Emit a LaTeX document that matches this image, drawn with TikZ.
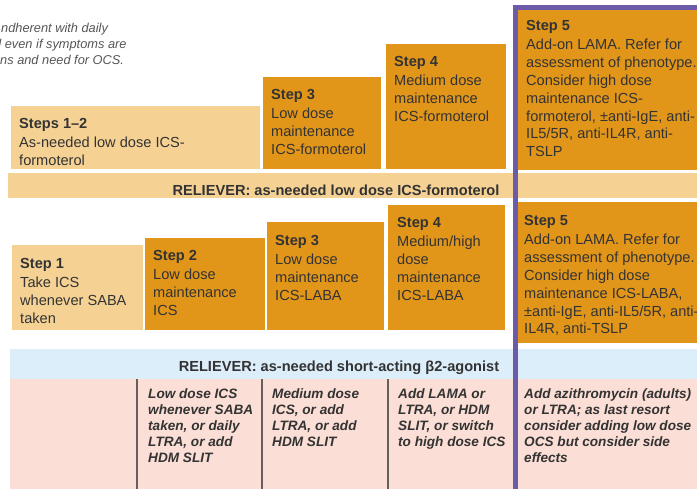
\documentclass[tikz,border=0pt]{standalone}
\usepackage{fontspec}
\setmainfont{Liberation Sans}
\usepackage{tikz}
\usetikzlibrary{positioning}
\definecolor{lightorange}{HTML}{F5D294}
\definecolor{darkorange}{HTML}{E1961A}
\definecolor{framepurple}{HTML}{6C5BA8}
\definecolor{relblue}{HTML}{DDEEFB}
\definecolor{ctrlpink}{HTML}{FBDED5}
\definecolor{darktext}{HTML}{333333}
\definecolor{notegray}{HTML}{555555}
\definecolor{sepgray}{HTML}{66605A}
\newcommand{\boxfont}{\fontsize{14.6}{17.8}\selectfont}
\newcommand{\ctrlfont}{\fontsize{13.6}{16.2}\selectfont\bfseries\itshape}
\newcommand{\notefont}{\fontsize{12.8}{16}\selectfont\itshape}

\begin{document}
\begin{tikzpicture}[x=1pt, y=-1pt]
	\useasboundingbox (0,0) rectangle (697,488);

	\begin{scope}[every node/.style={rectangle, anchor=north west, inner sep=0pt, outer sep=0pt}]
		\node[fill=lightorange, minimum width=249pt, minimum height=63pt] (s12) at (11,106) {};
		\node[fill=darkorange, minimum width=118pt, minimum height=92pt] (s3t) at (263,77) {};
		\node[fill=darkorange, minimum width=120pt, minimum height=125pt] (s4t) at (386,44) {};
		\node[fill=darkorange, minimum width=182pt, minimum height=160pt] (s5t) at (518,10) {};
		\node[fill=lightorange, minimum width=692pt, minimum height=25pt] (rel1) at (8,173) {};
		\node[fill=lightorange, minimum width=131pt, minimum height=85pt] (s1) at (12,245) {};
		\node[fill=darkorange, minimum width=120pt, minimum height=92pt] (s2) at (145,238) {};
		\node[fill=darkorange, minimum width=117pt, minimum height=108pt] (s3b) at (267,222) {};
		\node[fill=darkorange, minimum width=117pt, minimum height=125pt] (s4b) at (388,205) {};
		\node[fill=darkorange, minimum width=182pt, minimum height=141pt] (s5b) at (518,202) {};
		\node[fill=relblue, minimum width=690pt, minimum height=30pt] (rel2) at (10,349) {};
		\node[fill=ctrlpink, minimum width=690pt, minimum height=110pt] (ctrl) at (10,379) {};
	\end{scope}

	\begin{scope}[every path/.style={draw=sepgray, line width=1.4pt}]
		\path (137,379) -- (137,489);
		\path (262,379) -- (262,489);
		\path (388,379) -- (388,489);
	\end{scope}

	\draw[framepurple, line width=5pt] (515.5,490) -- (515.5,7.5) -- (700,7.5);

	\begin{scope}[every node/.style={anchor=north west, inner sep=0pt, align=left, text=notegray, font=\notefont}]
		\node (n1) at (1,23.5) {ndherent with daily};
		\node (n2) at (-6,39.5) {d even if symptoms are};
		\node (n3) at (0,55.5) {ns and need for OCS.};
	\end{scope}

	\begin{scope}[every node/.style={anchor=north west, inner sep=0pt, align=left, text=darktext, font=\boxfont}]
		\node (t12) at (19,117.7) {\textbf{Steps 1--2}\\[2pt]As-needed low dose ICS-\\formoterol};
		\node (t3t) at (271,88.7) {\textbf{Step 3}\\[2pt]Low dose\\maintenance\\ICS-formoterol};
		\node (t4t) at (394,55.7) {\textbf{Step 4}\\[2pt]Medium dose\\maintenance\\ICS-formoterol};
		\node (t5t) at (526,19.7) {\textbf{Step 5}\\[2pt]Add-on LAMA. Refer for\\assessment of phenotype.\\Consider high dose\\maintenance ICS-\\formoterol, ±anti-IgE, anti-\\IL5/5R, anti-IL4R, anti-\\TSLP};
		\node[anchor=base, font=\boxfont\bfseries] (r1) at (336,195) {RELIEVER: as-needed low dose ICS-formoterol};
		\node (t1) at (20,257.7) {\textbf{Step 1}\\[2pt]Take ICS\\whenever SABA\\taken};
		\node (t2) at (153,249.7) {\textbf{Step 2}\\[2pt]Low dose\\maintenance\\ICS};
		\node (t3b) at (275,234.7) {\textbf{Step 3}\\[2pt]Low dose\\maintenance\\ICS-LABA};
		\node (t4b) at (397,216.7) {\textbf{Step 4}\\[2pt]Medium/high\\dose\\maintenance\\ICS-LABA};
		\node (t5b) at (524,214.7) {\textbf{Step 5}\\[2pt]Add-on LAMA. Refer for\\assessment of phenotype.\\Consider high dose\\maintenance ICS-LABA,\\±anti-IgE, anti-IL5/5R, anti-\\IL4R, anti-TSLP};
		\node[anchor=base, font=\boxfont\bfseries] (r2) at (339,371) {RELIEVER: as-needed short-acting β2-agonist};
	\end{scope}

	\begin{scope}[every node/.style={anchor=north west, inner sep=0pt, align=left, text=darktext, font=\ctrlfont}]
		\node (c2) at (148,388) {Low dose ICS\\whenever SABA\\taken, or daily\\LTRA, or add\\HDM SLIT};
		\node (c3) at (272,388) {Medium dose\\ICS, or add\\LTRA, or add\\HDM SLIT};
		\node (c4) at (398,388) {Add LAMA or\\LTRA, or HDM\\SLIT, or switch\\to high dose ICS};
		\node (c5) at (524,388) {Add azithromycin (adults)\\or LTRA; as last resort\\consider adding low dose\\OCS but consider side\\effects};
	\end{scope}
\end{tikzpicture}
\end{document}
